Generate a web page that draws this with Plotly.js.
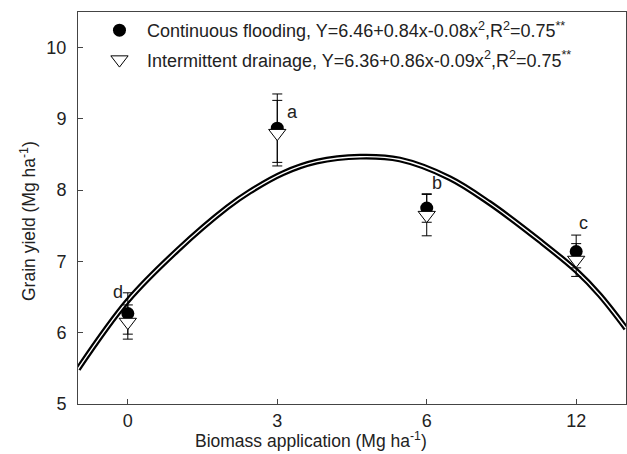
<!DOCTYPE html>
<html>
<head>
<meta charset="utf-8">
<script src="https://cdn.plot.ly/plotly-3.0.1.min.js"></script>
<style>html,body{margin:0;padding:0;background:#fff;}#chart{width:627px;height:454px;}</style>
</head>
<body>
<div id="chart"></div>
<script>
// Biomass application levels (tick labels) and their evenly spaced axis positions
const biomassLabels = ['0', '3', '6', '12'];
const biomassPos = [0, 3, 6, 9];

// Continuous flooding: grain yield and error
const cfYield = [6.27, 8.87, 7.75, 7.14];
const cfErr = [0.29, 0.48, 0.20, 0.23];

// Intermittent drainage: grain yield and error
const idYield = [6.15, 8.80, 7.65, 7.02];
const idErr = [0.24, 0.46, 0.29, 0.23];

// Significance letters
const sigLetters = ['d', 'a', 'b', 'c'];
const sigX = [-0.19, 3.30, 6.21, 9.15];
const sigY = [6.57, 9.09, 8.10, 7.54];

// Fitted curve
const curveX = [-1.0, 0, 1, 2, 2.45, 3.12, 3.79, 4.66, 5.46, 6.46, 7.26, 8.27, 9.0, 9.47, 10.0];
const curveY = [5.49, 6.45, 7.16, 7.76, 7.98, 8.24, 8.40, 8.47, 8.43, 8.17, 7.82, 7.29, 6.87, 6.53, 6.06];

const FONT = 'Liberation Sans, Arial, sans-serif';
const TXT = '#222';
const FS = 18;

const traces = [
  {x: curveX, y: curveY, mode: 'lines', line: {color: '#000', width: 5.8, shape: 'spline'}, showlegend: false, hoverinfo: 'skip'},
  {x: curveX, y: curveY, mode: 'lines', line: {color: '#fff', width: 1.4, shape: 'spline'}, showlegend: false, hoverinfo: 'skip'},
  {x: biomassPos, y: cfYield, mode: 'markers', legendgroup: 'cf',
   name: 'Continuous flooding, Y=6.46+0.84x-0.08x<sup>2</sup>,R<sup>2</sup>=0.75<sup>**</sup>',
   marker: {symbol: 'circle', size: 13, color: '#000'},
   error_y: {type: 'data', array: cfErr, visible: true, color: '#000', thickness: 1, width: 5}},
  {x: biomassPos, y: idYield, mode: 'markers', legendgroup: 'id',
   name: 'Intermittent drainage, Y=6.36+0.86x-0.09x<sup>2</sup>,R<sup>2</sup>=0.75<sup>**</sup>',
   marker: {symbol: 'triangle-down', size: 15, color: '#fff', line: {color: '#000', width: 1}},
   error_y: {type: 'data', array: idErr, visible: true, color: '#000', thickness: 1, width: 5}}
];

const annotations = sigLetters.map((t, i) => ({
  x: sigX[i], y: sigY[i], xref: 'x', yref: 'y', text: t, showarrow: false,
  font: {family: FONT, size: FS, color: TXT}
}));
annotations.push({
  xref: 'paper', yref: 'paper', x: (311 - 78) / 548, y: (404 - 453) / 392, yanchor: 'bottom', xanchor: 'center',
  text: 'Biomass application (Mg ha<sup>-1</sup>)', showarrow: false,
  font: {family: FONT, size: 17.5, color: TXT}
});
annotations.push({
  xref: 'paper', yref: 'paper', x: -(78 - 28) / 548, y: (404 - 221) / 392, xanchor: 'center', yanchor: 'middle',
  text: 'Grain yield (Mg ha<sup>-1</sup>)', textangle: -90, showarrow: false,
  font: {family: FONT, size: 17.5, color: TXT}
});

const layout = {
  width: 627, height: 454,
  margin: {l: 78, r: 1, t: 12, b: 50},
  paper_bgcolor: '#fff', plot_bgcolor: '#fff',
  font: {family: FONT, size: FS, color: TXT},
  showlegend: true,
  legend: {x: 0.0255, y: 1.0, xanchor: 'left', yanchor: 'top', bgcolor: 'rgba(0,0,0,0)',
           font: {family: FONT, size: FS, color: TXT}, itemwidth: 45, tracegroupgap: 3},
  xaxis: {range: [-1, 10], tickvals: biomassPos, ticktext: biomassLabels, ticks: 'inside', ticklen: 5,
          tickcolor: '#444', showline: true, linecolor: '#444', linewidth: 1, mirror: true,
          showgrid: false, zeroline: false, tickfont: {family: FONT, size: FS, color: TXT}, fixedrange: true},
  yaxis: {range: [5, 10.5], tickvals: [5, 6, 7, 8, 9, 10], ticks: 'inside', ticklen: 5,
          tickcolor: '#444', showline: true, linecolor: '#444', linewidth: 1, mirror: true,
          showgrid: false, zeroline: false, tickfont: {family: FONT, size: FS, color: TXT},
          ticklabelstandoff: 7, fixedrange: true},
  annotations: annotations
};

Plotly.newPlot('chart', traces, layout, {displayModeBar: false, staticPlot: true});
</script>
</body>
</html>
